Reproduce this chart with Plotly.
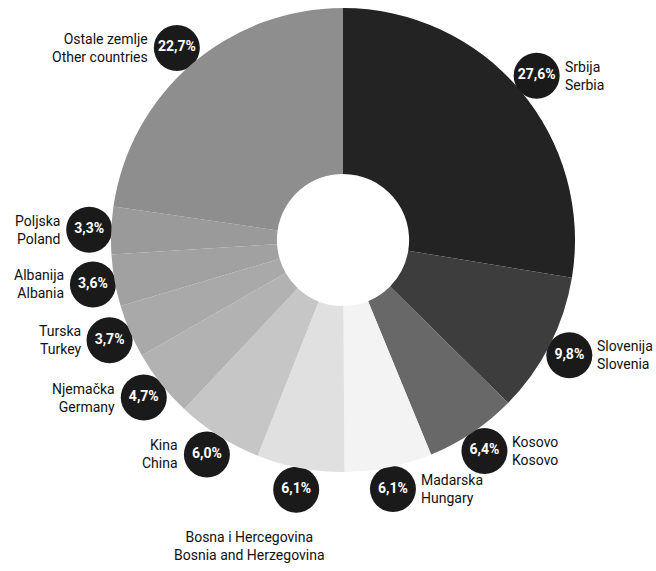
import math
import plotly.graph_objects as go

names_hr = ["Srbija", "Slovenija", "Kosovo", "Madarska", "Bosna i Hercegovina", "Kina",
            "Njemačka", "Turska", "Albanija", "Poljska", "Ostale zemlje"]
names_en = ["Serbia", "Slovenia", "Kosovo", "Hungary", "Bosnia and Herzegovina", "China",
            "Germany", "Turkey", "Albania", "Poland", "Other countries"]
shares = [27.6, 9.8, 6.4, 6.1, 6.1, 6.0, 4.7, 3.7, 3.6, 3.3, 22.7]
colors = ["#232323", "#3d3d3d", "#686868", "#f3f3f3", "#e0e0e0", "#c6c6c6",
          "#b2b2b2", "#a9a9a9", "#a1a1a1", "#9a9a9a", "#8e8e8e"]

W, H = 656, 571
cx, cy, R = 343, 240, 232
hole = 0.285
R_lab = 254
FONT = "Roboto, Liberation Sans Narrow, sans-serif"

fig = go.Figure()
fig.add_trace(go.Pie(
    values=shares, labels=names_hr, sort=False, direction="clockwise", rotation=0,
    hole=hole, marker=dict(colors=colors, line=dict(width=0)),
    textinfo="none", hoverinfo="label+value", showlegend=False,
    domain=dict(x=[(cx - R) / W, (cx + R) / W], y=[1 - (cy + R) / H, 1 - (cy - R) / H]),
))

total = sum(shares)
cum = 0
px, py, pct = [], [], []
annotations = []
for i, v in enumerate(shares):
    mid = (cum + v / 2) / total * 2 * math.pi
    cum += v
    x = cx + R_lab * math.sin(mid)
    y = cy - R_lab * math.cos(mid)
    px.append(x)
    py.append(y)
    pct.append(f"<b>{v:.1f}%</b>".replace(".", ","))
    txt = f"{names_hr[i]}<br>{names_en[i]}"
    fnt = dict(family=FONT, size=14, color="#111")
    if names_en[i].startswith("Bosnia"):
        annotations.append(dict(x=x - 47, y=y + 56, xref="x", yref="y", text=txt,
                                showarrow=False, xanchor="center", yanchor="middle",
                                align="center", font=fnt))
    elif x > cx:
        annotations.append(dict(x=x + 26, y=y, xref="x", yref="y", text=txt,
                                showarrow=False, xanchor="left", yanchor="middle",
                                align="left", font=fnt))
    else:
        annotations.append(dict(x=x - 27, y=y, xref="x", yref="y", text=txt,
                                showarrow=False, xanchor="right", yanchor="middle",
                                align="right", font=fnt))

fig.add_trace(go.Scatter(
    x=px, y=py, mode="markers+text", text=pct, textposition="middle center",
    marker=dict(size=46, color="#1a1a1a", line=dict(width=0)),
    textfont=dict(family=FONT, size=14, color="white"),
    hoverinfo="skip", showlegend=False,
))

fig.update_layout(
    width=W, height=H, margin=dict(l=0, r=0, t=0, b=0),
    paper_bgcolor="white", plot_bgcolor="rgba(0,0,0,0)",
    xaxis=dict(range=[0, W], visible=False, domain=[0, 1], fixedrange=True),
    yaxis=dict(range=[H, 0], visible=False, domain=[0, 1], fixedrange=True),
    annotations=annotations,
)
fig.write_html("out.html", config={"displayModeBar": False},
               post_script="document.body.style.margin='0';document.body.style.overflow='hidden';")
